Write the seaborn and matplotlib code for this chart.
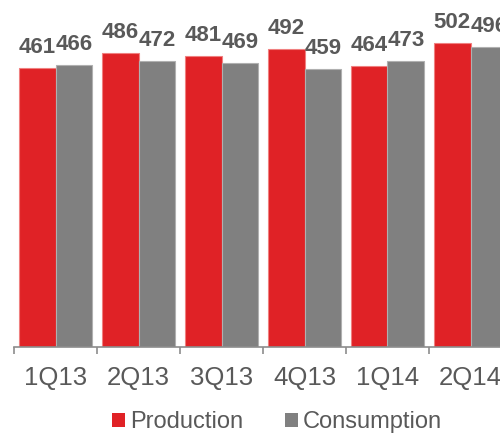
import matplotlib
matplotlib.use("Agg")
import matplotlib.pyplot as plt
import seaborn as sns
import pandas as pd
import numpy as np

quarters = ["1Q13", "2Q13", "3Q13", "4Q13", "1Q14", "2Q14"]
production = [461, 486, 481, 492, 464, 502]
consumption = [466, 472, 469, 459, 473, 496]
series = ["Production", "Consumption"]
colors = {"Production": "#E02226", "Consumption": "#808080"}
edges = {"Production": "#F08080", "Consumption": "#B0B0B0"}

df = pd.DataFrame({
    "quarter": quarters * 2,
    "value": production + consumption,
    "series": [series[0]] * len(quarters) + [series[1]] * len(quarters),
})

sns.set_style("white")
plt.rcParams["font.family"] = ["Liberation Sans", "DejaVu Sans"]

text_color = "#595959"
fig = plt.figure(figsize=(5.0, 4.34), dpi=100)
ax = fig.add_axes([14 / 500, 87 / 434, 498 / 500, 333 / 434])

sns.barplot(data=df, x="quarter", y="value", hue="series", order=quarters,
            hue_order=series, palette=colors, width=0.88, gap=0,
            saturation=1, legend=False, ax=ax)

for container, name in zip(ax.containers, series):
    for patch in container:
        patch.set_edgecolor(edges[name])
        patch.set_linewidth(0.8)

# value labels above each bar
for container, vals in zip(ax.containers, [production, consumption]):
    for patch, v in zip(container, vals):
        cx = patch.get_x() + patch.get_width() / 2
        ax.annotate(str(v), xy=(cx, v), xytext=(0, 10.8),
                    textcoords="offset points", ha="center", va="baseline",
                    fontsize=16, fontweight="bold", color=text_color,
                    annotation_clip=False)

ax.set_ylim(0, 550)
ax.set_xlim(-0.5, len(quarters) - 0.5)
ax.set_xlabel("")
ax.set_ylabel("")
ax.set_yticks([])

for side in ["top", "right", "left"]:
    ax.spines[side].set_visible(False)
ax.spines["bottom"].set_color("#8C8C8C")
ax.spines["bottom"].set_linewidth(1.2)

ax.set_xticks(range(len(quarters)))
ax.set_xticklabels(quarters)
ax.set_xticks(np.arange(-0.5, len(quarters), 1.0), minor=True)
ax.tick_params(axis="x", which="major", length=0, pad=14,
               labelsize=18.5, labelcolor=text_color)
ax.tick_params(axis="x", which="minor", length=5, width=1.2,
               color="#8C8C8C", direction="out", bottom=True)

handles = [plt.Rectangle((0, 0), 1, 1, facecolor=colors[s], edgecolor="none")
           for s in series]
leg = fig.legend(handles, series, loc="center", bbox_to_anchor=(0.554, 0.027),
                 ncol=2, frameon=False, fontsize=17, handlelength=0.55,
                 handleheight=0.55, handletextpad=0.2, columnspacing=1.78)
for t in leg.get_texts():
    t.set_color(text_color)

fig.savefig("out.png", dpi=100)
